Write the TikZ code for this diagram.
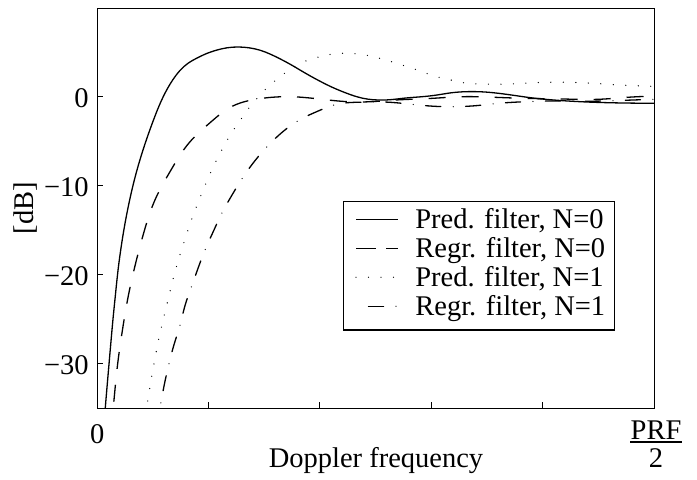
\documentclass[tikz,border=0pt]{standalone}
\usepackage{fontspec}
\setmainfont{Liberation Serif}
\usetikzlibrary{hobby}
\begin{document}
\begin{tikzpicture}[x=0.5bp,y=-0.5bp,
  font=\fontsize{14.3}{17}\selectfont,
  curve/.style={line width=0.65bp, line join=round, use Hobby shortcut},
  solidc/.style={curve},
  dashedc/.style={curve, dash pattern=on 8.5bp off 8bp},
  dottedc/.style={curve, line cap=round, dash pattern=on 0bp off 6.25bp},
  dashdotc/.style={curve, line cap=round, dash pattern=on 7.6bp off 6.2bp on 0bp off 6.2bp},
  frame/.style={line width=0.6bp},
  lbl/.style={inner sep=0pt},
]
\useasboundingbox (0,0) rectangle (697,480);

% frame and ticks
\node[draw, frame, inner sep=0pt, minimum width=278.5bp, minimum height=200bp, anchor=north west] (axes) at (97,8) {};
\foreach \yy in {96.7,185.6,274.4,363.3} \draw[frame] (97,\yy) -- (103,\yy);
\foreach \xx in {208.4,319.8,431.2,542.6} \draw[frame] (\xx,408) -- (\xx,402);

% tick labels
\node[lbl, anchor=east] (y0) at (89,98) {0};
\node[lbl, anchor=east] (y10) at (89,187.5) {−10};
\node[lbl, anchor=east] (y20) at (89,276) {−20};
\node[lbl, anchor=east] (y30) at (89,365) {−30};
\node[lbl, rotate=90] (ylab) at (26,208) {[dB]};
\node[lbl] (x0) at (97.3,434) {0};
\node[lbl, anchor=base] (prf) at (656,439.3) {PRF};
\draw[frame] (630,442) -- (682,442);
\node[lbl, anchor=base] (two) at (656,468) {2};
\node[lbl, anchor=base] (xlab) at (376,468) {Doppler frequency};

% curves
\begin{scope}
\clip (97,8) rectangle (654,408);
\begin{scope}[shift={(97,96.7)}, x=557bp, y=4.4445bp]
\draw[solidc] (0.0058,-38) .. (0.00745,-35) .. (0.00916,-32.43) .. (0.01086,-29.95) .. (0.01266,-27.36) .. (0.01445,-24.89) .. (0.01643,-22.42) .. (0.01849,-19.94) .. (0.02208,-16.57) .. (0.02621,-13.53) .. (0.03052,-10.94) .. (0.03591,-8.25) .. (0.04129,-6.0) .. (0.05072,-2.62) .. (0.05934,-0.03) .. (0.06795,1.88) .. (0.07451,2.95) .. (0.08169,3.76) .. (0.08887,4.29) .. (0.09695,4.78) .. (0.10772,5.25) .. (0.1167,5.5) .. (0.12657,5.59) .. (0.13645,5.5) .. (0.14632,5.23) .. (0.1553,4.8) .. (0.16427,4.26) .. (0.17325,3.66) .. (0.18223,3.0) .. (0.1912,2.35) .. (0.20018,1.74) .. (0.21185,1.02) .. (0.22262,0.46) .. (0.23339,-0.01) .. (0.24327,-0.28) .. (0.25224,-0.37) .. (0.26302,-0.34) .. (0.27469,-0.18) .. (0.28995,-0.02) .. (0.30521,0.19) .. (0.31688,0.42) .. (0.32855,0.55) .. (0.33932,0.57) .. (0.35009,0.51) .. (0.36176,0.36) .. (0.37702,0.1) .. (0.39138,-0.15) .. (0.40664,-0.34) .. (0.4219,-0.48) .. (0.45153,-0.65) .. (0.47846,-0.72) .. (0.5,-0.74);
\draw[dashedc] (0.012,-38) .. (0.0148,-34.7) .. (0.0184,-30.2) .. (0.0229,-26.2) .. (0.0278,-22.6) .. (0.0332,-19.5) .. (0.0422,-15.2) .. (0.0521,-11.6) .. (0.0664,-8.25) .. (0.0826,-5.2) .. (0.1032,-2.74) .. (0.1185,-1.27) .. (0.1472,-0.2) .. (0.1732,0) .. (0.2074,-0.37) .. (0.2352,-0.6) .. (0.2684,-0.37) .. (0.2989,-0.2) .. (0.3285,0.0) .. (0.3573,-0.07) .. (0.3887,-0.2) .. (0.4183,-0.26) .. (0.4488,-0.3) .. (0.4785,-0.05) .. (0.5,0.05);
\draw[dottedc] (0.042,-37) .. (0.0446,-35) .. (0.0481,-32.2) .. (0.0521,-29.4) .. (0.0566,-26.6) .. (0.0617,-23.9) .. (0.0671,-21.1) .. (0.073,-18.4) .. (0.0799,-15.7) .. (0.0873,-13.0) .. (0.0958,-10.35) .. (0.105,-7.72) .. (0.1125,-5.88) .. (0.1179,-4.68) .. (0.1239,-3.49) .. (0.1304,-2.32) .. (0.1371,-1.16) .. (0.1445,-0.07) .. (0.1523,0.96) .. (0.1607,1.88) .. (0.1703,2.81) .. (0.1793,3.53) .. (0.1897,4.13) .. (0.2002,4.5) .. (0.2116,4.8) .. (0.2226,4.88) .. (0.2337,4.8) .. (0.2453,4.58) .. (0.2567,4.21) .. (0.2675,3.82) .. (0.2786,3.37) .. (0.2894,2.92) .. (0.2998,2.44) .. (0.3103,2.07) .. (0.3214,1.77) .. (0.3319,1.51) .. (0.3438,1.43) .. (0.3618,1.4) .. (0.3914,1.57) .. (0.4228,1.62) .. (0.4452,1.51) .. (0.4677,1.32) .. (0.4901,1.2) .. (0.5,1.15);
\draw[dashdotc] (0.053,-37.5) .. (0.0566,-35) .. (0.0604,-32.4) .. (0.0645,-30.1) .. (0.0691,-27.9) .. (0.0745,-25.7) .. (0.079,-23.5) .. (0.085,-21.3) .. (0.0978,-17.0) .. (0.105,-15.0) .. (0.1113,-13.3) .. (0.1212,-11.06) .. (0.1308,-9.11) .. (0.1416,-7.23) .. (0.1532,-5.55) .. (0.1665,-3.97) .. (0.1816,-2.62) .. (0.198,-1.64) .. (0.2152,-0.85) .. (0.2352,-0.62) .. (0.2585,-0.6) .. (0.2879,-0.93) .. (0.3061,-1.1) .. (0.3238,-1.12) .. (0.342,-0.99) .. (0.3609,-0.74) .. (0.3779,-0.6) .. (0.4111,-0.48) .. (0.4488,-0.5) .. (0.475,-0.4) .. (0.5,-0.3);
\end{scope}
\end{scope}

% legend
\node[draw, fill=white, frame, inner sep=0pt, minimum width=135.65bp, minimum height=64.3bp, anchor=north west] (legend) at (342.7,200.7) {};
\draw[line width=0.65bp] (356,219.3) -- (398,219.3);
\draw[line width=0.65bp, dash pattern=on 10bp off 5bp] (356,248.3) -- (398,248.3);
\draw[line width=0.65bp, line cap=round, dash pattern=on 0bp off 6.25bp] (356,277.3) -- (398,277.3);
\draw[line width=0.65bp, line cap=round, dash pattern=on 7.6bp off 6.2bp on 0bp off 6.2bp, dash phase=13.8bp] (356,306.3) -- (398,306.3);
\node[lbl, anchor=base west] (l1) at (415,229) {Pred. filter, N=0};
\node[lbl, anchor=base west] (l2) at (415,258) {Regr. filter, N=0};
\node[lbl, anchor=base west] (l3) at (415,287) {Pred. filter, N=1};
\node[lbl, anchor=base west] (l4) at (415,316) {Regr. filter, N=1};
\end{tikzpicture}
\end{document}
